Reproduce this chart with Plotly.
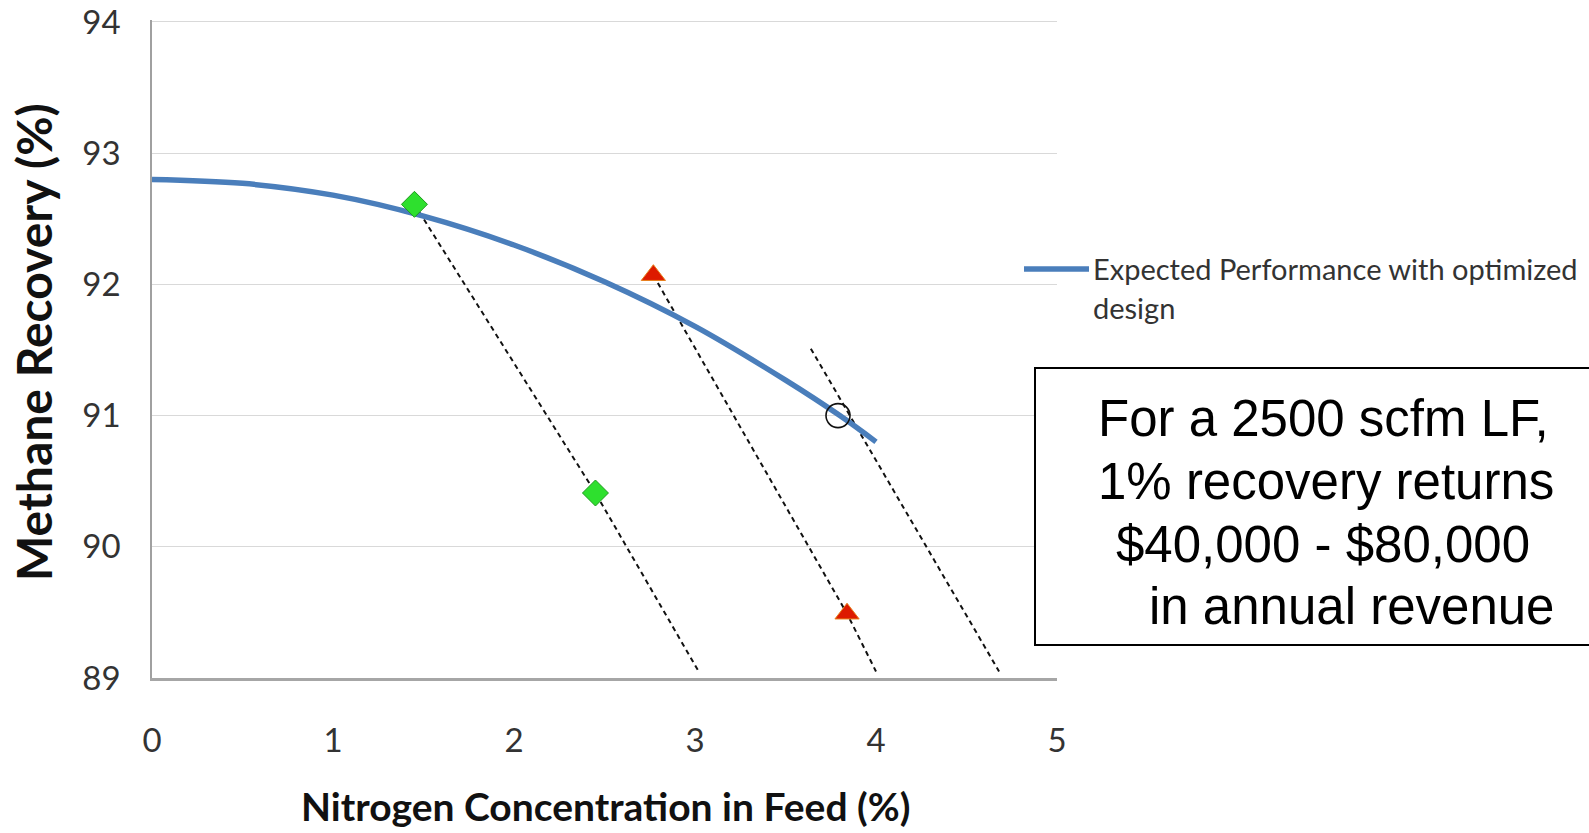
import plotly.graph_objects as go

# Expected performance curve (optimized design)
curve_x = [0, 0.5, 1.0, 1.5, 2.0, 2.5, 3.0, 3.5, 3.8, 4.0]
curve_y = [92.8, 92.77, 92.68, 92.52, 92.3, 92.02, 91.68, 91.27, 91.0, 90.8]

# Dashed trend lines
dash_a_x = [1.45, 2.45, 3.02]
dash_a_y = [92.61, 90.41, 89.05]
dash_b_x = [2.77, 3.84, 4.0]
dash_b_y = [92.07, 89.49, 89.05]
dash_c_x = [3.64, 4.68]
dash_c_y = [91.51, 89.05]

# Measured points
diamond_x = [1.45, 2.45]
diamond_y = [92.61, 90.41]
triangle_x = [2.77, 3.84]
triangle_y = [92.07, 89.49]
circle_x = [3.79]
circle_y = [91.0]

x_ticks = [0, 1, 2, 3, 4, 5]
y_ticks = [89, 90, 91, 92, 93, 94]

legend_label = ["Expected Performance with optimized", "design"]
box_lines = ["For a 2500 scfm LF,", "1% recovery returns", "$40,000 - $80,000", "in annual revenue"]

W, H = 1589, 833
L, R, T, B = 152, 532, 20, 155
PW, PH = W - L - R, H - T - B


def px(xpix):
    return (xpix - L) / PW


def py(ypix):
    return (H - B - ypix) / PH


fig = go.Figure()

dash_style = dict(color="#111111", width=2, dash="5px,4px")
for dx, dy in [(dash_a_x, dash_a_y), (dash_b_x, dash_b_y), (dash_c_x, dash_c_y)]:
    fig.add_trace(go.Scatter(x=dx, y=dy, mode="lines", line=dash_style,
                             showlegend=False, hoverinfo="skip"))

fig.add_trace(go.Scatter(
    x=curve_x, y=curve_y, mode="lines",
    line=dict(color="#4a7ebb", width=5.5, shape="spline", smoothing=1),
    name=" ".join(legend_label), showlegend=False))

fig.add_trace(go.Scatter(
    x=diamond_x, y=diamond_y, mode="markers",
    marker=dict(symbol="diamond", size=20, color="#2ee02e",
                line=dict(color="#1f9a1f", width=1)),
    showlegend=False))

fig.add_trace(go.Scatter(
    x=triangle_x, y=triangle_y, mode="markers",
    marker=dict(symbol="triangle-up", size=21, color="#dd1a00",
                line=dict(color="#e8801a", width=1)),
    showlegend=False))

fig.add_trace(go.Scatter(
    x=circle_x, y=circle_y, mode="markers",
    marker=dict(symbol="circle-open", size=24, color="#111111",
                line=dict(color="#111111", width=1.6)),
    showlegend=False))

tick_font = dict(family="Lato, Calibri, sans-serif", size=33, color="#333333")

fig.update_xaxes(
    range=[0, 5], tickvals=x_ticks, ticktext=[str(v) for v in x_ticks],
    showgrid=False, zeroline=False, showline=True, linecolor="#a6a6a6",
    linewidth=2.5, ticks="", tickfont=tick_font, ticklabelstandoff=32,
    automargin=False)

fig.update_yaxes(
    range=[89, 94.015], tickvals=y_ticks, ticktext=[str(v) for v in y_ticks],
    showgrid=True, gridcolor="#d9d9d9", gridwidth=1, zeroline=False,
    showline=True, linecolor="#a0a0a0", linewidth=1.5, ticks="",
    tickfont=tick_font, ticklabelstandoff=23, automargin=False)

annotations = [
    dict(text="<b>Nitrogen Concentration in Feed (%)</b>", x=px(605), y=py(806),
         xref="paper", yref="paper", showarrow=False,
         font=dict(family="Lato, Calibri, sans-serif", size=39, color="#111111"),
         xanchor="center", yanchor="middle"),
    dict(text="<b>Methane Recovery (%)</b>", x=px(33), y=py(342),
         xref="paper", yref="paper", showarrow=False,
         font=dict(family="Lato, Calibri, sans-serif", size=48, color="#111111"),
         textangle=-90, xanchor="center", yanchor="middle"),
]

legend_font = dict(family="Lato, Calibri, sans-serif", size=29, color="#333333")
for label, ycen in zip(legend_label, [268, 308]):
    annotations.append(dict(text=label, x=px(1091), y=py(ycen), xref="paper",
                            yref="paper", showarrow=False, font=legend_font,
                            xanchor="left", yanchor="middle"))

box_font = dict(family="Liberation Sans, Arial, sans-serif", size=51, color="#000000")
for line, xl, yc in zip(box_lines, [1096, 1096, 1114, 1147], [418, 481, 544, 606]):
    annotations.append(dict(text=line, x=px(xl), y=py(yc), xref="paper",
                            yref="paper", showarrow=False, font=box_font,
                            xanchor="left", yanchor="middle"))

shapes = [
    # legend sample line
    dict(type="line", xref="paper", yref="paper", x0=px(1024), x1=px(1089),
         y0=py(269), y1=py(269), line=dict(color="#4a7ebb", width=5.5)),
    # revenue note box
    dict(type="rect", xref="paper", yref="paper", x0=px(1035), x1=px(1640),
         y0=py(645), y1=py(368), line=dict(color="#000000", width=2),
         fillcolor="white", layer="above"),
]

fig.update_layout(
    width=W, height=H,
    margin=dict(l=L, r=R, t=T, b=B),
    paper_bgcolor="white", plot_bgcolor="white",
    annotations=annotations, shapes=shapes,
    showlegend=False,
)

fig.write_html("out.html")
